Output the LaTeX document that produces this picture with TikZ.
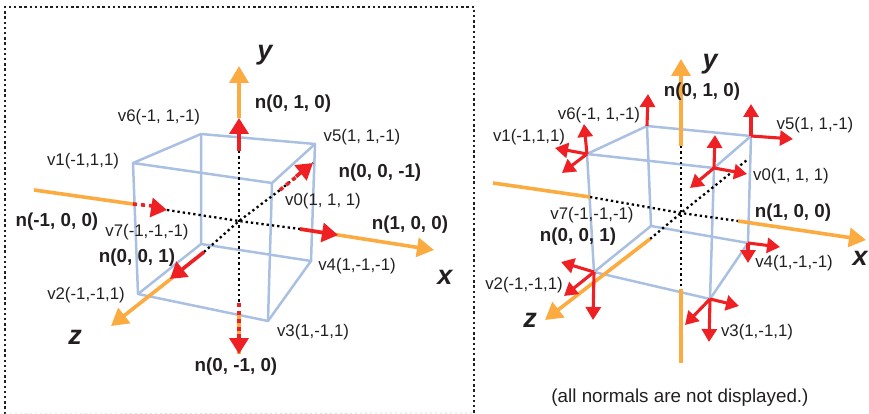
\documentclass[tikz,border=0pt]{standalone}
\usepackage{fontspec}
\setmainfont{Liberation Sans}
\usetikzlibrary{arrows.meta}
\definecolor{axisorange}{HTML}{FBAB40}
\definecolor{normalred}{HTML}{EE2024}
\definecolor{edgeblue}{HTML}{AAC0E2}
\definecolor{inkdark}{HTML}{231F20}
\tikzset{
  edgeline/.style={draw=edgeblue,line width=2.5pt,line join=round,line cap=round},
  hidden/.style={draw=black,line width=2.3pt,dash pattern=on 2.3pt off 3pt},
  frameline/.style={draw=inkdark,line width=2.6pt,dash pattern=on 2.4pt off 2.8pt},
  axisline/.style={draw=axisorange,line width=3.6pt},
  axisarrow/.style={axisline,-{Triangle[length=17pt,width=19pt]}},
  bignormal/.style={draw=normalred,line width=3.6pt,-{Triangle[length=16pt,width=19pt]}},
  reddash/.style={draw=normalred,line width=3.6pt,dash pattern=on 4pt off 4pt},
  smallnormal/.style={draw=normalred,line width=3.1pt,-{Triangle[length=13pt,width=15pt]}},
  vlabel/.style={text=inkdark,font=\fontsize{16.8}{19}\selectfont,inner sep=0pt},
  nlabel/.style={text=inkdark,font=\fontsize{18.8}{21}\bfseries\selectfont,inner sep=0pt},
  axlabel/.style={text=inkdark,font=\fontsize{27}{30}\bfseries\itshape\selectfont,inner sep=0pt},
  notelabel/.style={text=inkdark,font=\fontsize{18.8}{21}\selectfont,inner sep=0pt}
}
\begin{document}
\begin{tikzpicture}[x=1pt,y=-1pt]
\useasboundingbox (0,0) rectangle (869,414);
% frame
\coordinate (fa) at (5,414); \coordinate (fb) at (5,7);
\coordinate (fc) at (474,7); \coordinate (fd) at (474,413);
\draw[frameline] (fa) -- (fb) -- (fc) -- (fd);
\draw[draw=black!12,line width=1pt,dash pattern=on 2pt off 3pt] (fa) -- (fd);

% ---------- left cube
\coordinate (Lv0) at (272,183); \coordinate (Lv1) at (133,163);
\coordinate (Lv2) at (138,294); \coordinate (Lv3) at (268,321);
\coordinate (Lv4) at (311,261); \coordinate (Lv5) at (315,144);
\coordinate (Lv6) at (201,134); \coordinate (Lv7) at (201,244);
\coordinate (Lc) at (239,221);
\draw[edgeline] (Lv6) -- (Lv7) (Lv7) -- (Lv4) (Lv7) -- (Lv2);
\draw[edgeline] (Lv1) -- (Lv6) -- (Lv5) -- (Lv0) -- (Lv1) -- (Lv2) -- (Lv3) -- (Lv0);
\draw[edgeline] (Lv5) -- (Lv4) -- (Lv3);
% left axes
\coordinate (Lxs) at (34,190); \coordinate (Lxa) at (133,204);
\coordinate (Lxb) at (300,229); \coordinate (Lxe) at (434,250);
\coordinate (Lxh) at (167,210); \coordinate (Lxt) at (338,235);
\coordinate (Lyt) at (239,66); \coordinate (Lyu) at (239,118); \coordinate (Lyr) at (239,151);
\coordinate (Lyd) at (239,303); \coordinate (Lyo) at (239,311); \coordinate (Lyb) at (239,354);
\coordinate (Lzr) at (204,252); \coordinate (Lzo) at (172,278); \coordinate (Lzt) at (111,326);
\coordinate (Lzh) at (170,279);
\coordinate (Lbk) at (280,190); \coordinate (Lbt) at (313,163);
\draw[axisline] (Lxs) -- (Lxa);
\draw[axisarrow] (Lxb) -- (Lxe);
\draw[axisarrow] (Lyu) -- (Lyt);
\draw[axisline] (Lyo) -- (Lyb);
\draw[axisarrow] (Lzo) -- (Lzt);
\draw[hidden] (Lxh) -- (Lc) -- (Lxb);
\draw[hidden] (Lyr) -- (Lyd);
\draw[hidden] (Lzr) -- (Lc) -- (Lbk);
\draw[hidden] (Lbk) -- (Lbt);
\draw[reddash] (Lxa) -- (153,206);
\draw[bignormal] (153,207.8) -- (Lxh);
\draw[bignormal] (Lxb) -- (Lxt);
\draw[bignormal] (Lyr) -- (Lyu);
\draw[bignormal] (Lzr) -- (Lzh);
\draw[reddash] (Lyd) -- (239,336);
\draw[bignormal] (239,334) -- (Lyb);
\draw[reddash] (Lbk) -- (298,175.5);
\draw[bignormal] (296,176.5) -- (Lbt);
% left labels
\node[axlabel] (Lly) at (265,55) {y};
\node[axlabel] (Llx) at (445,277) {x};
\node[axlabel] (Llz) at (75,337) {z};
\node[nlabel] (Ln1) at (293,104) {n(0, 1, 0)};
\node[nlabel] (Ln2) at (380,173) {n(0, 0, -1)};
\node[nlabel] (Ln3) at (57,222) {n(-1, 0, 0)};
\node[nlabel] (Ln4) at (137,258) {n(0, 0, 1)};
\node[nlabel] (Ln5) at (236,367) {n(0, -1, 0)};
\node[nlabel] (Ln6) at (410,225) {n(1, 0, 0)};
\node[vlabel] (Lt6) at (159,117) {v6(-1, 1,-1)};
\node[vlabel] (Lt1) at (83,161) {v1(-1,1,1)};
\node[vlabel] (Lt5) at (362,137) {v5(1, 1,-1)};
\node[vlabel] (Lt0) at (323,201) {v0(1, 1, 1)};
\node[vlabel] (Lt7) at (147,232) {v7(-1,-1,-1)};
\node[vlabel] (Lt2) at (86,295) {v2(-1,-1,1)};
\node[vlabel] (Lt3) at (313,332) {v3(1,-1,1)};
\node[vlabel] (Lt4) at (357,266) {v4(1,-1,-1)};

% ---------- right cube
\coordinate (Rv0) at (714,168); \coordinate (Rv1) at (587,154);
\coordinate (Rv2) at (594,272); \coordinate (Rv3) at (710,299);
\coordinate (Rv4) at (748,243); \coordinate (Rv5) at (751,136);
\coordinate (Rv6) at (647,126); \coordinate (Rv7) at (651,226);
\coordinate (Rc) at (681,213);
\draw[edgeline] (Rv6) -- (Rv7) (Rv7) -- (Rv4) (Rv7) -- (Rv2);
\draw[edgeline] (Rv1) -- (Rv6) -- (Rv5) -- (Rv0) -- (Rv1) -- (Rv2) -- (Rv3) -- (Rv0);
\draw[edgeline] (Rv5) -- (Rv4) -- (Rv3);
% right axes
\coordinate (Rxs) at (493,183); \coordinate (Rxa) at (590,197);
\coordinate (Rxb) at (738,221); \coordinate (Rxe) at (866,240);
\coordinate (Ryt) at (681,59); \coordinate (Rya) at (681,146);
\coordinate (Ryb) at (681,289); \coordinate (Rye) at (681,363);
\coordinate (Rza) at (650,239); \coordinate (Rzt) at (545,320);
\coordinate (Rbk) at (747,160);
\draw[hidden] (Rxa) -- (Rc) -- (Rxb);
\draw[hidden] (Rya) -- (Ryb);
\draw[hidden] (Rza) -- (Rc) -- (Rbk);
\draw[axisline] (Rxs) -- (Rxa);
\draw[axisarrow] (Rxb) -- (Rxe);
\draw[axisarrow] (Rya) -- (Ryt);
\draw[axisline] (Ryb) -- (Rye);
\draw[axisarrow] (Rza) -- (Rzt);
% vertex normals
\coordinate (Ra6) at (648,94);
\coordinate (Ra1u) at (584,124); \coordinate (Ra1l) at (555,148); \coordinate (Ra1d) at (562,173);
\coordinate (Ra5u) at (751,104); \coordinate (Ra5r) at (793,139);
\coordinate (Ra0u) at (715,135); \coordinate (Ra0r) at (747,174); \coordinate (Ra0d) at (690,188);
\coordinate (Ra2l) at (561,262); \coordinate (Ra2d) at (564,296); \coordinate (Ra2b) at (593,320);
\coordinate (Ra3r) at (739,306); \coordinate (Ra3d) at (685,325); \coordinate (Ra3b) at (709,342);
\coordinate (Ra4r) at (780,247); \coordinate (Ra4b) at (748,263);
\draw[smallnormal] (Rv6) -- (Ra6);
\draw[smallnormal] (Rv1) -- (Ra1u);
\draw[smallnormal] (Rv1) -- (Ra1l);
\draw[smallnormal] (Rv1) -- (Ra1d);
\draw[smallnormal] (Rv5) -- (Ra5u);
\draw[smallnormal] (Rv5) -- (Ra5r);
\draw[smallnormal] (Rv0) -- (Ra0u);
\draw[smallnormal] (Rv0) -- (Ra0r);
\draw[smallnormal] (Rv0) -- (Ra0d);
\draw[smallnormal] (Rv2) -- (Ra2l);
\draw[smallnormal] (Rv2) -- (Ra2d);
\draw[smallnormal] (Rv2) -- (Ra2b);
\draw[smallnormal] (Rv3) -- (Ra3r);
\draw[smallnormal] (Rv3) -- (Ra3d);
\draw[smallnormal] (Rv3) -- (Ra3b);
\draw[smallnormal] (Rv4) -- (Ra4r);
\draw[smallnormal] (Rv4) -- (Ra4b);
% right labels
\node[axlabel] (Rly) at (710,64) {y};
\node[axlabel] (Rlx) at (860,258) {x};
\node[axlabel] (Rlz) at (530,320) {z};
\node[nlabel] (Rn1) at (702,92) {n(0, 1, 0)};
\node[nlabel] (Rn2) at (793,213) {n(1, 0, 0)};
\node[nlabel] (Rn3) at (578,237) {n(0, 0, 1)};
\node[vlabel] (Rt6) at (599,115) {v6(-1, 1,-1)};
\node[vlabel] (Rt1) at (529,137) {v1(-1,1,1)};
\node[vlabel] (Rt5) at (815,125) {v5(1, 1,-1)};
\node[vlabel] (Rt0) at (791,176) {v0(1, 1, 1)};
\node[vlabel] (Rt7) at (592,215) {v7(-1,-1,-1)};
\node[vlabel] (Rt2) at (524,285) {v2(-1,-1,1)};
\node[vlabel] (Rt3) at (757,332) {v3(1,-1,1)};
\node[vlabel] (Rt4) at (794,263) {v4(1,-1,-1)};
\node[notelabel] (Rnote) at (680,398) {(all normals are not displayed.)};
\end{tikzpicture}
\end{document}
